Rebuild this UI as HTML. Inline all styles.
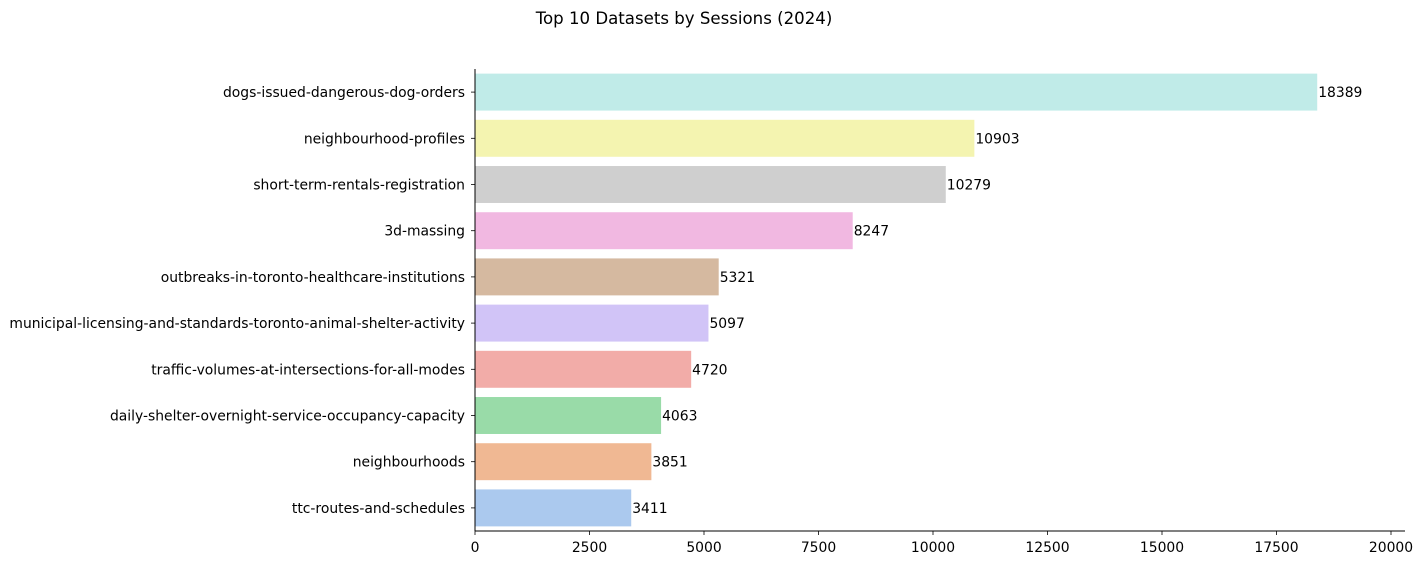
<!DOCTYPE html>
<html><head><meta charset="utf-8"><style>
body{margin:0;background:#fff;width:1426px;height:565px;overflow:hidden}
svg text{font-family:"DejaVu Sans","Liberation Sans",sans-serif;font-size:13.9px;fill:#000}
</style></head><body>
<svg id="chart" width="1426" height="565" xmlns="http://www.w3.org/2000/svg">
<text x="684" y="24" text-anchor="middle" style="font-size:16.6px">Top 10 Datasets by Sessions (2024)</text>
<g id="bars"></g><g id="axes"></g>
</svg>
<script>
const categories=["dogs-issued-dangerous-dog-orders","neighbourhood-profiles","short-term-rentals-registration","3d-massing","outbreaks-in-toronto-healthcare-institutions","municipal-licensing-and-standards-toronto-animal-shelter-activity","traffic-volumes-at-intersections-for-all-modes","daily-shelter-overnight-service-occupancy-capacity","neighbourhoods","ttc-routes-and-schedules"];
const sessions=[18389,10903,10279,8247,5321,5097,4720,4063,3851,3411];
const xTicks=[0,2500,5000,7500,10000,12500,15000,17500,20000];
const colors=["#c0ebe8","#f4f4b0","#cfcfcf","#f1b8e1","#d5b9a0","#d1c4f7","#f2aca8","#99dba8","#f0b893","#abc9ee"];
const NS="http://www.w3.org/2000/svg";
const x0=475,x1=1391,yTop=69,yBot=531,xMax=20000;
const xs=v=>x0+(x1-x0)*v/xMax;
const step=(yBot-yTop)/categories.length;
const yc=i=>yTop+step*(i+0.5);
const bh=step*0.8;
function mk(t,a,p){const e=document.createElementNS(NS,t);for(const k in a)e.setAttribute(k,a[k]);p.appendChild(e);return e;}
const bars=document.getElementById('bars'),axes=document.getElementById('axes');
categories.forEach((c,i)=>{
  const r=mk('rect',{x:x0,y:yc(i)-bh/2,width:xs(sessions[i])-x0,height:bh,fill:colors[i]},bars);
  
  
  const v=mk('text',{x:xs(sessions[i])+1,y:yc(i)+5},bars);v.textContent=sessions[i];
  
  
  const l=mk('text',{x:x0-10,y:yc(i)+5,'text-anchor':'end'},axes);l.textContent=c;
  
  
  const t=mk('line',{x1:x0-4,x2:x0,y1:yc(i),y2:yc(i),stroke:'#000','stroke-width':0.8},axes);
  
  
});
xTicks.forEach(v=>{
  const t=mk('line',{x1:xs(v),x2:xs(v),y1:yBot,y2:yBot+4,stroke:'#000','stroke-width':0.8},axes);
  
  
  const l=mk('text',{x:xs(v),y:yBot+21,'text-anchor':'middle'},axes);l.textContent=v;
  
  
});
const ls=mk('line',{x1:x0,x2:x0,y1:yTop,y2:yBot,stroke:'#000','stroke-width':1},axes);


const bs=mk('line',{x1:x0,x2:1405,y1:yBot,y2:yBot,stroke:'#000','stroke-width':1},axes);


</script>
</body></html>
